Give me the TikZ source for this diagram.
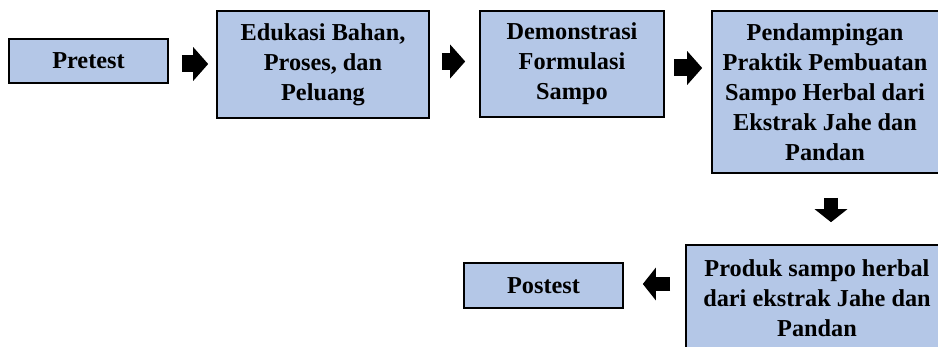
\documentclass[tikz,border=0pt]{standalone}
\usepackage{fontspec}
\setmainfont{Liberation Serif}
\usetikzlibrary{arrows.meta}
\definecolor{boxblue}{HTML}{B4C7E7}
\begin{document}
\begin{tikzpicture}[x=1pt,y=-1pt,
  box/.style={draw=black, line width=1.6pt, fill=boxblue, align=center, inner sep=0pt,
    font=\fontsize{24.3}{30}\selectfont\bfseries},
  blkh/.style={line width=17pt, line cap=butt, -{Triangle[length=15pt,width=33pt]}},
  blkv/.style={line width=14pt, line cap=butt, -{Triangle[length=13pt,width=32pt]}}]
\useasboundingbox (0,0) rectangle (938,347);
\clip (0,0) rectangle (938,347);
\node[box, minimum width=159pt, minimum height=44pt] (pre) at (88.5,61) {Pretest};
\node[box, minimum width=212pt, minimum height=107pt] (edu) at (323,64.5) {Edukasi Bahan,\\Proses, dan\\Peluang};
\node[box, minimum width=184pt, minimum height=106pt] (demo) at (572,64) {Demonstrasi\\Formulasi\\Sampo};
\node[box, minimum width=230pt, minimum height=162pt] (pend) at (827,92) {\hspace*{-4pt}Pendampingan\\\hspace*{-4pt}Praktik Pembuatan\\\hspace*{-4pt}Sampo Herbal dari\\\hspace*{-4pt}Ekstrak Jahe dan\\\hspace*{-4pt}Pandan};
\node[box, minimum width=262pt, minimum height=106pt] (prod) at (817,298) {Produk sampo herbal\\dari ekstrak Jahe dan\\Pandan};
\node[box, minimum width=159pt, minimum height=45pt] (post) at (543.5,285.5) {Postest};
\draw[blkh, shorten <=13pt, shorten >=8pt] ([yshift=-3pt]pre.east) -- ([yshift=-3pt]pre.east -| edu.west);
\draw[blkh, shorten <=12pt, shorten >=14pt] ([yshift=3pt]edu.east) -- ([yshift=3pt]edu.east -| demo.west);
\draw[blkh, shorten <=9pt, shorten >=9pt] ([yshift=-4pt]demo.east) -- ([yshift=-4pt]demo.east -| pend.west);
\draw[blkv, shorten <=24pt, shorten >=22pt] ([xshift=4pt]pend.south) -- ([xshift=4pt]pend.south |- prod.north);
\draw[blkv, shorten <=15pt, shorten >=19pt] ([yshift=1.5pt]post.east -| prod.west) -- ([yshift=1.5pt]post.east);
\end{tikzpicture}
\end{document}
